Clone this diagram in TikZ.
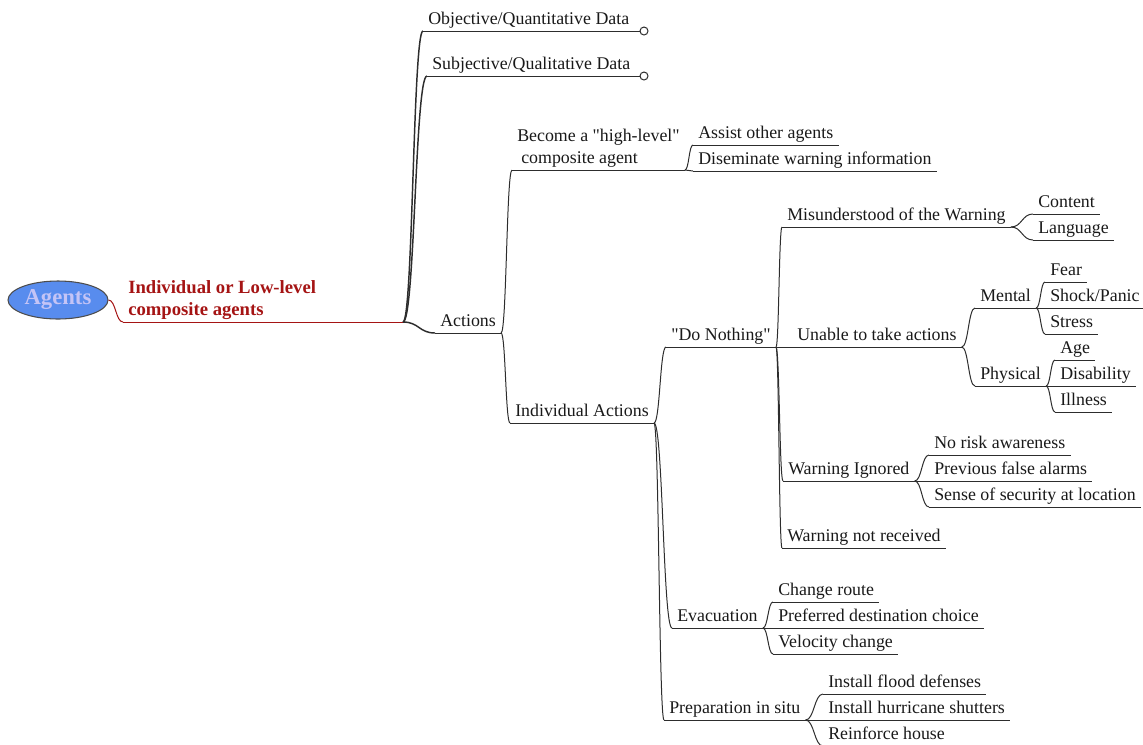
\documentclass[tikz,border=0pt]{standalone}
\usepackage{fontspec}
\setmainfont{Liberation Serif}
\usetikzlibrary{shapes.geometric,calc}
\definecolor{agentblue}{RGB}{88,140,238}
\definecolor{agenttext}{RGB}{196,196,246}
\definecolor{lowred}{RGB}{165,20,20}
\definecolor{inkgrey}{RGB}{45,45,45}

\tikzset{
  topic/.style={anchor=south west, inner xsep=3.75pt, inner ysep=2.4pt, text depth=0.25em,
    font=\fontsize{13.4pt}{16.5pt}\selectfont, text=black!90},
  uline/.style={draw=inkgrey, line width=0.75pt},
  link/.style={draw=inkgrey, line width=0.75pt},
  mainlink/.style={draw=inkgrey, line width=1.1pt},
}

\begin{document}
\begin{tikzpicture}[x=0.75pt,y=-0.75pt]
    \useasboundingbox (0,0) rectangle (1143,744);

    % Root and first level
    \node[ellipse, draw=black!70, fill=agentblue, line width=0.8pt, minimum width=75pt, minimum height=28.5pt,
          inner sep=0pt, text=agenttext, font=\fontsize{17pt}{20pt}\selectfont\bfseries] (agents) at (58,300) {Agents};
    \node[topic, text=lowred, align=left, font=\fontsize{14pt}{16.5pt}\selectfont\bfseries] (ilc) at (123,322)
        {Individual or Low-level\\composite agents};
    \coordinate (hub) at (403,322);

    \node[topic] (obj) at (423,31) {Objective/Quantitative Data};
    \node[topic] (subj) at (427,76) {Subjective/Qualitative Data};
    \node[topic] (act) at (435,333) {Actions};
    \coordinate (objend) at (644,31);
    \coordinate (subjend) at (644,76);

    % Actions
    \node[topic, align=left] (become) at (512,170) {Become a \textquotedbl high-level\textquotedbl\\\hspace*{3pt}composite agent};
    \node[topic] (indiv) at (510,423) {Individual Actions};
    \node[topic] (assist) at (693,145) {Assist other agents};
    \node[topic] (disem) at (693,171) {Diseminate warning information};

    % Individual actions
    \node[topic] (nothing) at (666,347) {\textquotedbl Do Nothing\textquotedbl};
    \node[topic] (evac) at (672,628) {Evacuation};
    \node[topic] (prep) at (664,720) {Preparation in situ};

    % Do nothing
    \node[topic] (misund) at (782,227) {Misunderstood of the Warning};
    \node[topic] (unable) at (792,347) {Unable to take actions};
    \node[topic] (ignored) at (783,481) {Warning Ignored};
    \node[topic] (notrec) at (782,548) {Warning not received};

    \node[topic] (content) at (1033,214) {Content};
    \node[topic] (language) at (1033,240) {Language};

    \node[topic] (mental) at (975,308) {Mental};
    \node[topic] (physical) at (975,386) {Physical};
    \node[topic] (fear) at (1045,282) {Fear};
    \node[topic] (shock) at (1045,308) {Shock/Panic};
    \node[topic] (stress) at (1045,334) {Stress};
    \node[topic] (age) at (1055,360) {Age};
    \node[topic] (disab) at (1055,386) {Disability};
    \node[topic] (illness) at (1055,412) {Illness};

    \node[topic] (norisk) at (929,455) {No risk awareness};
    \node[topic] (prevfalse) at (929,481) {Previous false alarms};
    \node[topic] (sense) at (929,507) {Sense of security at location};

    % Evacuation and preparation
    \node[topic] (change) at (773,602) {Change route};
    \node[topic] (pref) at (773,628) {Preferred destination choice};
    \node[topic] (velo) at (773,654) {Velocity change};
    \node[topic] (flood) at (823,694) {Install flood defenses};
    \node[topic] (shutters) at (823,720) {Install hurricane shutters};
    \node[topic] (reinforce) at (823,746) {Reinforce house};

    % Underlines
    \draw[uline, draw=lowred] (ilc.south west) -- (hub);
    \draw[uline] (obj.south west) -- (objend);
    \draw[uline] (subj.south west) -- (subjend);
    \foreach \n in {act,become,indiv,assist,disem,nothing,evac,prep,misund,unable,ignored,notrec,
                    content,language,mental,physical,fear,shock,stress,age,disab,illness,
                    norisk,prevfalse,sense,change,pref,velo,flood,shutters,reinforce}
        \draw[uline] (\n.south west) -- (\n.south east);

    % Branches
    \coordinate (m) at ($(agents.east)!0.5!(ilc.south west)$);
    \draw[link, draw=lowred] (agents.east) .. controls (m |- agents.east) and (m |- ilc.south west) .. (ilc.south west);
    \foreach \c in {obj,subj,act}{
        \coordinate (m) at ($(hub)!0.5!(\c.south west)$);
        \draw[mainlink] (hub) .. controls (m |- hub) and (m |- \c.south west) .. (\c.south west);
    }
    \foreach \p/\c in {act/become,act/indiv,become/assist,become/disem,indiv/nothing,indiv/evac,indiv/prep,
                       nothing/misund,nothing/unable,nothing/ignored,nothing/notrec,misund/content,misund/language,
                       unable/mental,unable/physical,mental/fear,mental/shock,mental/stress,
                       physical/age,physical/disab,physical/illness,ignored/norisk,ignored/prevfalse,ignored/sense,
                       evac/change,evac/pref,evac/velo,prep/flood,prep/shutters,prep/reinforce}{
        \coordinate (m) at ($(\p.south east)!0.5!(\c.south west)$);
        \draw[link] (\p.south east) .. controls (m |- \p.south east) and (m |- \c.south west) .. (\c.south west);
    }

    % Open ends
    \draw[inkgrey, fill=white, line width=0.75pt] (objend) circle[radius=3pt];
    \draw[inkgrey, fill=white, line width=0.75pt] (subjend) circle[radius=3pt];
\end{tikzpicture}
\end{document}
